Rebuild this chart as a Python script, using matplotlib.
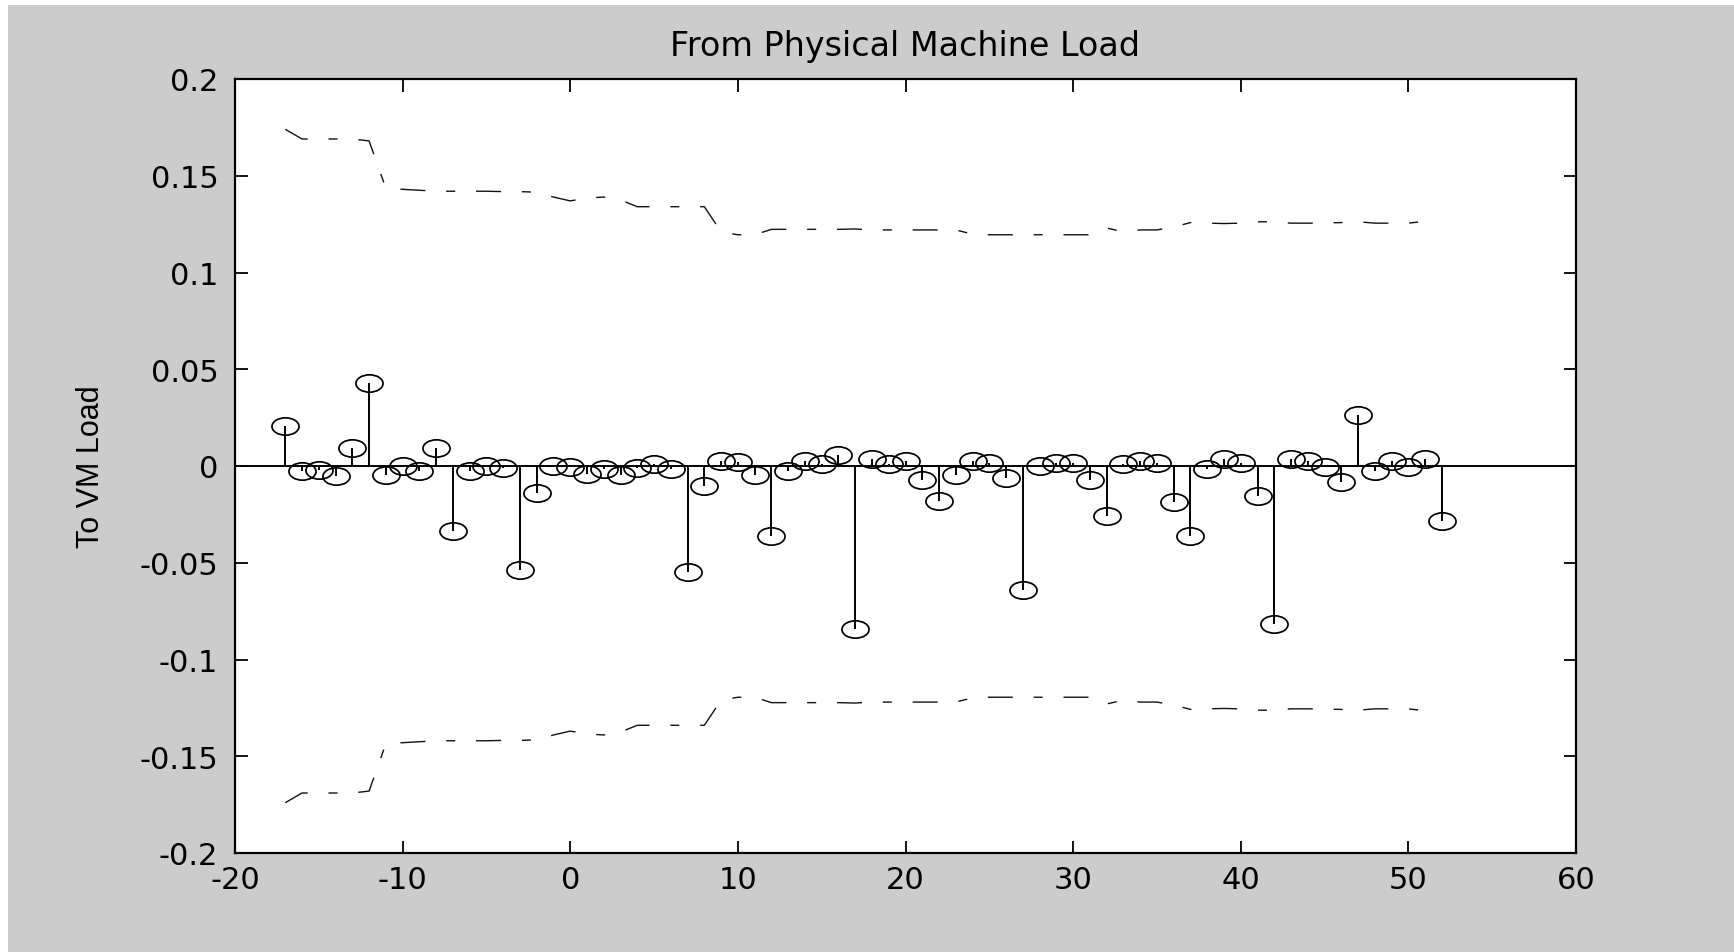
import numpy as np
import matplotlib
matplotlib.use("Agg")
import matplotlib.pyplot as plt
from matplotlib.path import Path
from matplotlib.transforms import Affine2D
from matplotlib.patches import Rectangle
from matplotlib.ticker import FixedLocator, FixedFormatter

# lags of the cross-correlation
lags = np.arange(-17, 53)
xcf = [0.0205, -0.0026, -0.002, -0.005, 0.0092, 0.0428, -0.0048, 0.0, -0.0026, 0.0092,
       -0.0337, -0.0026, 0.0, -0.0012, -0.0539, -0.014, 0.0, -0.0005, -0.0043, -0.0014,
       -0.0048, -0.0012, 0.0012, -0.0014, -0.0547, -0.0103, 0.0026, 0.002, -0.0048, -0.0363,
       -0.0026, 0.0026, 0.0009, 0.0056, -0.0841, 0.0034, 0.0009, 0.0024, -0.0074, -0.018,
       -0.0048, 0.0026, 0.0014, -0.006, -0.0641, 0.0, 0.0014, 0.0014, -0.0074, -0.0257,
       0.0009, 0.0026, 0.0014, -0.0185, -0.0363, -0.0014, 0.0038, 0.0014, -0.0154, -0.0819,
       0.0038, 0.0026, -0.0004, -0.0082, 0.0265, -0.0026, 0.0026, -0.0005, 0.0038, -0.0282]

bound_lags = np.arange(-17, 52)
upper_bound = [0.174, 0.169, 0.169, 0.169, 0.169, 0.168, 0.1435, 0.143, 0.1425, 0.142,
               0.142, 0.142, 0.142, 0.1418, 0.1418, 0.1415, 0.139, 0.137, 0.1385, 0.139,
               0.1375, 0.134, 0.134, 0.134, 0.134, 0.134, 0.121, 0.1195, 0.1195, 0.1223,
               0.1223, 0.1223, 0.1223, 0.1223, 0.1225, 0.122, 0.122, 0.122, 0.122, 0.122,
               0.122, 0.1198, 0.1195, 0.1195, 0.1195, 0.1195, 0.1195, 0.1195, 0.1195, 0.123,
               0.121, 0.122, 0.122, 0.1235, 0.1258, 0.1255, 0.1253, 0.1255, 0.1262, 0.1262,
               0.1255, 0.1255, 0.1256, 0.1258, 0.1262, 0.1255, 0.1255, 0.1255, 0.1265]
lower_bound = [-0.174, -0.169, -0.169, -0.169, -0.169, -0.168, -0.1435, -0.143, -0.1425, -0.142,
               -0.142, -0.142, -0.142, -0.1418, -0.1418, -0.1415, -0.139, -0.137, -0.1385, -0.139,
               -0.1375, -0.134, -0.134, -0.134, -0.134, -0.134, -0.121, -0.1195, -0.1195, -0.1223,
               -0.1223, -0.1223, -0.1223, -0.1223, -0.1225, -0.122, -0.122, -0.122, -0.122, -0.122,
               -0.122, -0.1198, -0.1195, -0.1195, -0.1195, -0.1195, -0.1195, -0.1195, -0.1195, -0.123,
               -0.121, -0.122, -0.122, -0.1235, -0.1258, -0.1255, -0.1253, -0.1255, -0.1262, -0.1262,
               -0.1255, -0.1255, -0.1256, -0.1258, -0.1262, -0.1255, -0.1255, -0.1255, -0.1265]

xticks = [-20, -10, 0, 10, 20, 30, 40, 50, 60]
xticklabels = ["-20", "-10", "0", "10", "20", "30", "40", "50", "60"]
yticks = [-0.2, -0.15, -0.1, -0.05, 0, 0.05, 0.1, 0.15, 0.2]
yticklabels = ["-0.2", "-0.15", "-0.1", "-0.05", "0", "0.05", "0.1", "0.15", "0.2"]

title = "From Physical Machine Load"
ylabel = "To VM Load"

plt.rcParams['font.family'] = ['DejaVu Sans']
plt.rcParams['axes.unicode_minus'] = False
plt.rcParams['lines.scale_dashes'] = False

fig = plt.figure(figsize=(17.34, 9.53), dpi=100, facecolor='white')
fig.patches.append(Rectangle((8 / 1734, 0), 1, 1 - 6 / 953, transform=fig.transFigure,
                             facecolor='#cccccc', edgecolor='none', zorder=-10))
ax = fig.add_axes([235 / 1734, 1 - 854 / 953, 1341 / 1734, 774 / 953])
ax.set_zorder(1)
ax.set_facecolor('white')

# squashed circle marker, like the stretched original
ell = Path.unit_circle().transformed(Affine2D().scale(1.0, 0.64))

ax.axhline(0, color='black', lw=1.4, zorder=2)
mk, st, bl = ax.stem(lags, xcf, linefmt='k-', basefmt=' ')
plt.setp(st, linewidth=1.4, color='black')
mk.set_marker(ell)
mk.set_markersize(19.5)
mk.set_markerfacecolor('none')
mk.set_markeredgecolor('black')
mk.set_markeredgewidth(1.25)

for b in (upper_bound, lower_bound):
    ln, = ax.plot(bound_lags, b, color='#111111', lw=1.0)
    ln.set_dashes((18, 15, 6.5, 15))

ax.set_xlim(-20, 60)
ax.set_ylim(-0.2, 0.2)
ax.xaxis.set_major_locator(FixedLocator(xticks))
ax.xaxis.set_major_formatter(FixedFormatter(xticklabels))
ax.yaxis.set_major_locator(FixedLocator(yticks))
ax.yaxis.set_major_formatter(FixedFormatter(yticklabels))
ax.tick_params(direction='in', length=9, width=1.3, top=True, right=True,
               labelsize=22, colors='black')
ax.tick_params(axis='x', pad=9)
ax.tick_params(axis='y', pad=12)
for s in ax.spines.values():
    s.set_linewidth(1.6)

ax.set_title(title, fontsize=24, pad=17)
ax.set_ylabel(ylabel, fontsize=22, family='Liberation Sans')
ax.yaxis.set_label_coords(-0.096, 0.5)

fig.savefig('out.png', dpi=100, facecolor=fig.get_facecolor())
